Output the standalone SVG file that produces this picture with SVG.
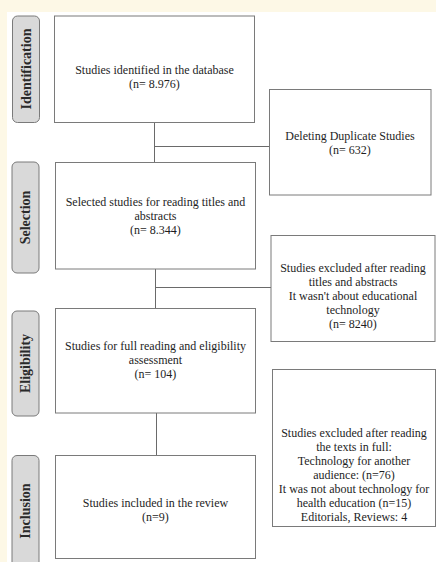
<svg xmlns="http://www.w3.org/2000/svg" width="436" height="562" viewBox="0 0 436 562">
<style>
.bg{fill:#fdf8e6}
.tab{fill:#d9d9d9;stroke:#7a7a7a;stroke-width:1}
.tabt{font-family:"Liberation Serif",serif;font-weight:bold;font-size:14px;fill:#2a2a2a;text-anchor:middle}
.box{fill:#ffffff;stroke:#7a7a7a;stroke-width:1}
.t{font-family:"Liberation Serif",serif;font-size:12px;fill:#1e1e1e;text-anchor:middle}
.ln{stroke:#6a6a6a;stroke-width:1;fill:none}
</style>
<rect class="bg" x="0" y="0" width="436" height="562"/>
<rect x="7" y="12" width="429" height="550" fill="#ffffff"/>
<g id="tab-identification"><rect class="tab" x="12.5" y="16" width="27" height="106.5" rx="5"/><text class="tabt" transform="translate(30.5,69) rotate(-90)">Identification</text></g>
<g id="tab-selection"><rect class="tab" x="12" y="162" width="27" height="111" rx="5"/><text class="tabt" transform="translate(30,217.5) rotate(-90)">Selection</text></g>
<g id="tab-eligibility"><rect class="tab" x="12" y="311" width="27" height="105" rx="5"/><text class="tabt" transform="translate(30,363.5) rotate(-90)">Eligibility</text></g>
<g id="tab-inclusion"><rect class="tab" x="12" y="455.5" width="27" height="112" rx="5"/><text class="tabt" transform="translate(30,511) rotate(-90)">Inclusion</text></g>
<g id="connectors">
<path class="ln" d="M154.5,122.5V162.5M154.5,146.5H269.5"/>
<path class="ln" d="M155.5,269V308M155.5,287.5H271"/>
<path class="ln" d="M156.5,413V455"/>
</g>
<g id="n1"><rect class="box" x="54.5" y="16" width="200" height="106.5"/><text class="t" x="154.5" y="74">Studies identified in the database</text><text class="t" x="154.5" y="88">(n= 8.976)</text></g>
<g id="n2"><rect class="box" x="269.5" y="89.5" width="161.5" height="105.5"/><text class="t" x="350" y="140">Deleting Duplicate Studies</text><text class="t" x="350" y="154">(n= 632)</text></g>
<g id="n3"><rect class="box" x="55.5" y="162.5" width="200" height="106.5"/><text class="t" x="155.5" y="206">Selected studies for reading titles and</text><text class="t" x="155.5" y="220">abstracts</text><text class="t" x="155.5" y="234">(n= 8.344)</text></g>
<g id="n4"><rect class="box" x="271" y="235.5" width="164" height="106"/><text class="t" x="353" y="272">Studies excluded after reading</text><text class="t" x="353" y="286">titles and abstracts</text><text class="t" x="353" y="300">It wasn't about educational</text><text class="t" x="353" y="314">technology</text><text class="t" x="353" y="328">(n= 8240)</text></g>
<g id="n5"><rect class="box" x="55.5" y="308.5" width="200" height="104.5"/><text class="t" x="155.5" y="350">Studies for full reading and eligibility</text><text class="t" x="155.5" y="364">assessment</text><text class="t" x="155.5" y="378">(n= 104)</text></g>
<g id="n6"><rect class="box" x="272.5" y="369.5" width="163" height="157"/><text class="t" x="354" y="437">Studies excluded after reading</text><text class="t" x="354" y="451">the texts in full:</text><text class="t" x="354" y="465">Technology for another</text><text class="t" x="354" y="479">audience: (n=76)</text><text class="t" x="354" y="493">It was not about technology for</text><text class="t" x="354" y="507">health education (n=15)</text><text class="t" x="354" y="521">Editorials, Reviews: 4</text></g>
<g id="n7"><rect class="box" x="55.5" y="455.5" width="200" height="103"/><text class="t" x="155.5" y="507">Studies included in the review</text><text class="t" x="155.5" y="521">(n=9)</text></g>
</svg>
